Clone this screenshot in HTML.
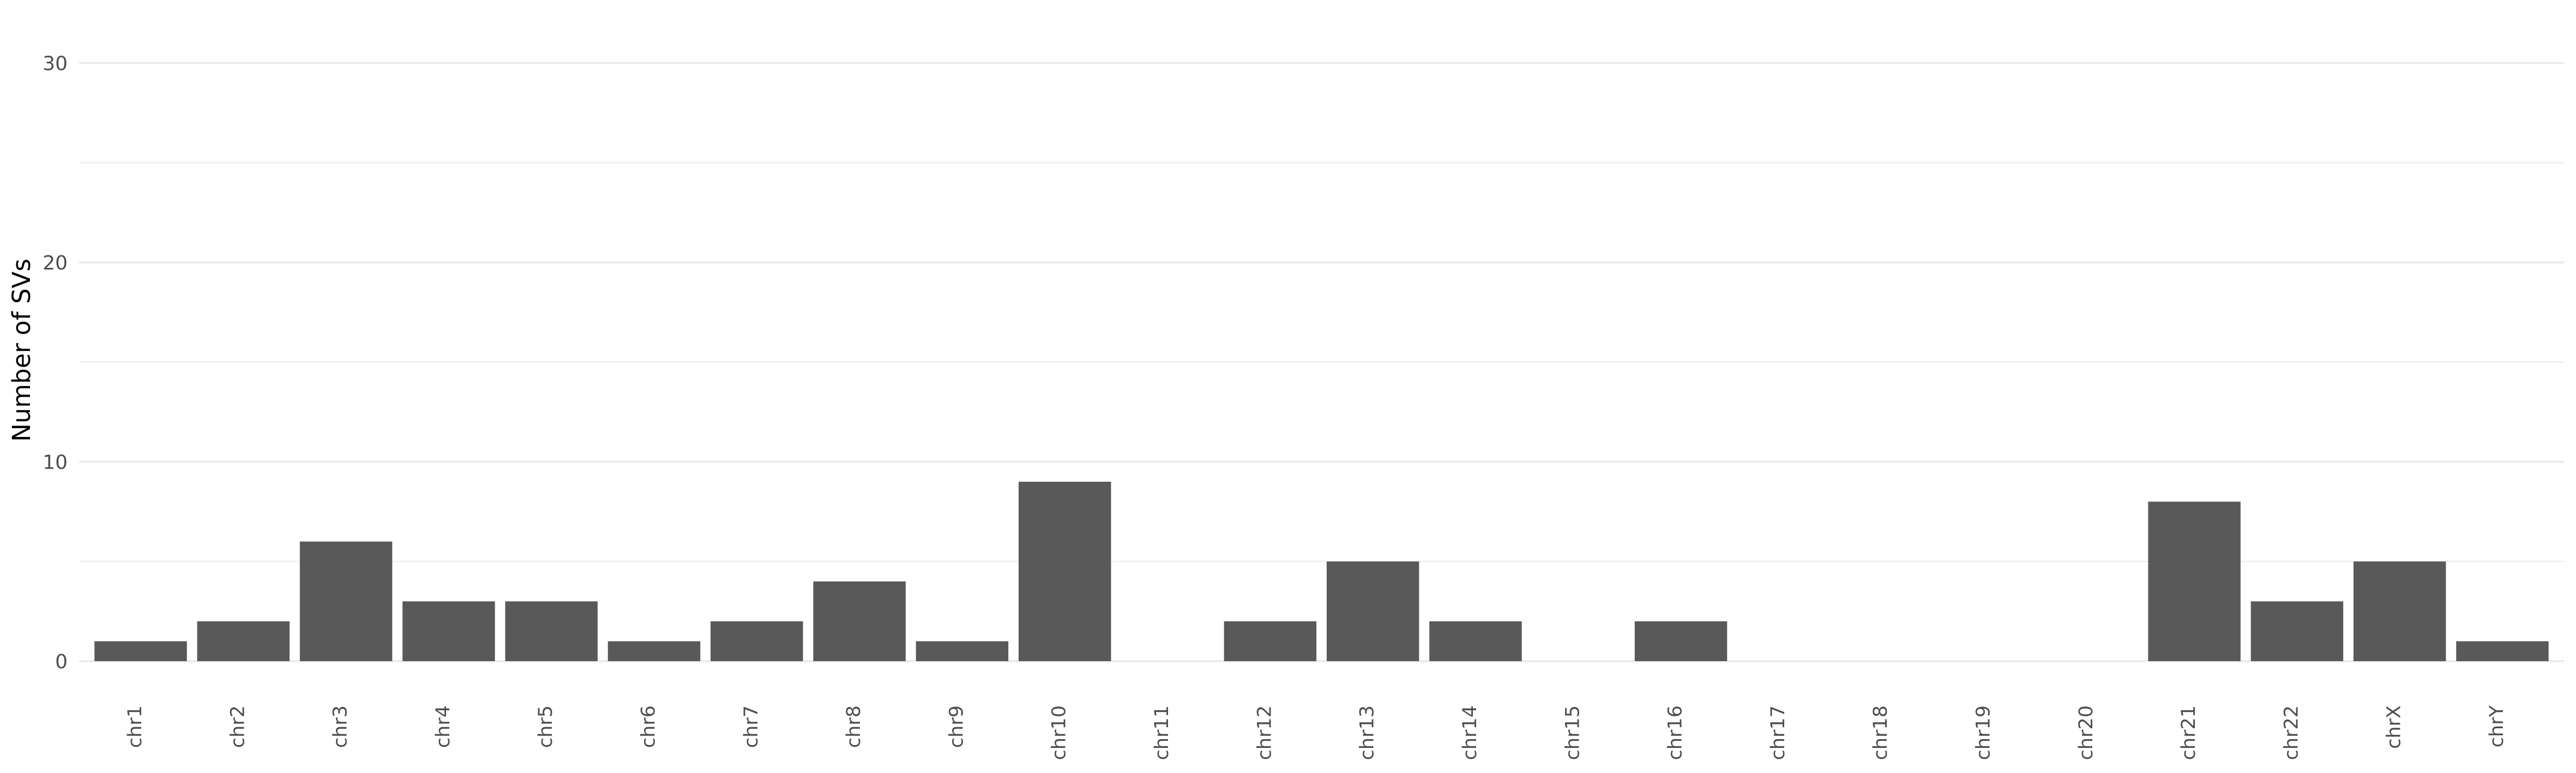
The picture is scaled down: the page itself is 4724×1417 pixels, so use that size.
<!DOCTYPE html>
<html><head><meta charset="utf-8"><style>
html,body{margin:0;padding:0;background:#fff;}
svg{display:block;font-family:"DejaVu Sans","Liberation Sans",sans-serif;}
</style></head><body>
<svg id="chart" width="4724" height="1417" viewBox="0 0 4724 1417" xmlns="http://www.w3.org/2000/svg">
<g id="grid"></g>
<g id="bars"></g>
<g id="xlabels"></g>
<g id="ylabels"></g>
<text x="0" y="0" transform="translate(55,642) rotate(-90)" text-anchor="middle" font-size="45" fill="#000">Number of SVs</text>
</svg>
<script>
const categories = ["chr1","chr2","chr3","chr4","chr5","chr6","chr7","chr8","chr9","chr10","chr11","chr12","chr13","chr14","chr15","chr16","chr17","chr18","chr19","chr20","chr21","chr22","chrX","chrY"];
const values = [1,2,6,3,3,1,2,4,1,9,0,2,5,2,0,2,0,0,0,0,8,3,5,1];
const majorTicks = [0,10,20,30];
const minorTicks = [5,15,25];
const tickLabels = ["0","10","20","30"];

const NS = "http://www.w3.org/2000/svg";
const left = 145, right = 4702, y0 = 1212, pxPerUnit = 36.55;
const step = (right - left) / (categories.length + 0.2);
function xCenter(i){ return left + step * (0.6 + i); }
function yScale(v){ return y0 - v * pxPerUnit; }
const grid = document.getElementById('grid');
function line(y, w, name){
  const l = document.createElementNS(NS,'line');
  l.setAttribute('x1', left); l.setAttribute('x2', right);
  l.setAttribute('y1', y); l.setAttribute('y2', y);
  l.setAttribute('stroke', '#ebebeb'); l.setAttribute('stroke-width', w);
  
  
  grid.appendChild(l);
}
minorTicks.forEach(t => line(yScale(t), 2, 'minor-gridline'));
majorTicks.forEach(t => line(yScale(t), 4, 'major-gridline'));
const yl = document.getElementById('ylabels');
majorTicks.forEach((t, i) => {
  const tx = document.createElementNS(NS,'text');
  tx.setAttribute('x', 124); tx.setAttribute('y', yScale(t) + 13);
  tx.setAttribute('text-anchor', 'end'); tx.setAttribute('font-size', '36');
  tx.setAttribute('fill', '#4d4d4d');
  
  
  tx.textContent = tickLabels[i];
  yl.appendChild(tx);
});
const bars = document.getElementById('bars');
const xl = document.getElementById('xlabels');
const bw = step * 0.9;
categories.forEach((c, i) => {
  const v = values[i];
  if (v > 0) {
    const r = document.createElementNS(NS,'rect');
    r.setAttribute('x', xCenter(i) - bw/2); r.setAttribute('width', bw);
    r.setAttribute('y', yScale(v)); r.setAttribute('height', y0 - yScale(v));
    r.setAttribute('fill', '#595959');
    
    
    bars.appendChild(r);
  }
  const tx = document.createElementNS(NS,'text');
  tx.setAttribute('transform', 'translate(' + (xCenter(i) + 1) + ',1293) rotate(-90)');
  tx.setAttribute('text-anchor', 'end'); tx.setAttribute('font-size', '35');
  tx.setAttribute('fill', '#4d4d4d');
  
  
  tx.textContent = c;
  xl.appendChild(tx);
});
</script>
</body></html>
